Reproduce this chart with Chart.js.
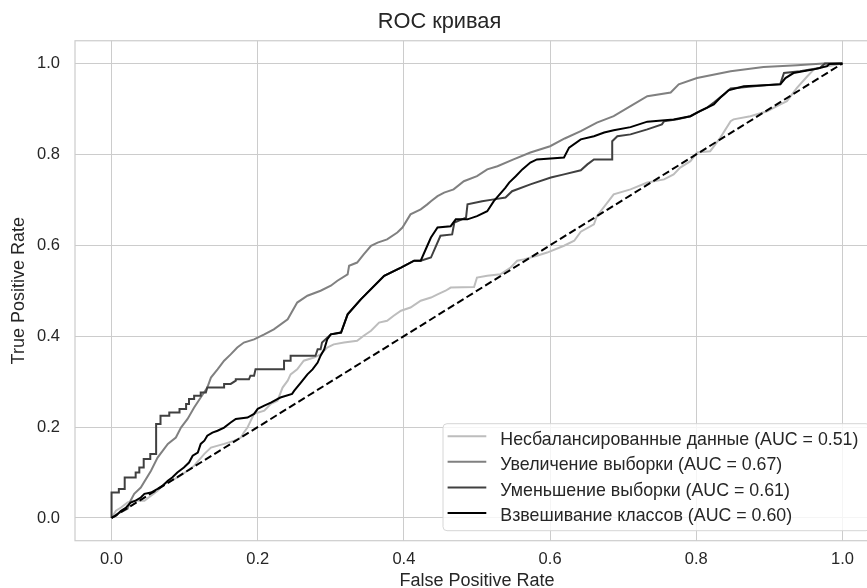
<!DOCTYPE html>
<html>
<head>
<meta charset="utf-8">
<script src="https://cdn.jsdelivr.net/npm/chart.js@4"></script>
<style>
  html, body { margin: 0; padding: 0; background: #fff; overflow: hidden; }
  #wrap { width: 867px; height: 588px; overflow: hidden; }
</style>
</head>
<body>
<div id="wrap"><canvas id="roc" width="888" height="592"></canvas></div>
<script>
const axisTicks = [0.0, 0.2, 0.4, 0.6, 0.8, 1.0];

const seriesNames = [
  "Несбалансированные данные (AUC = 0.51)",
  "Увеличение выборки (AUC = 0.67)",
  "Уменьшение выборки (AUC = 0.61)",
  "Взвешивание классов (AUC = 0.60)"
];
const seriesColors = ["#bdbdbd", "#808080", "#404040", "#000000"];

// несбалансированные
const fprUnbal = [0, 0.006, 0.013, 0.022, 0.031, 0.045, 0.054, 0.063, 0.072, 0.081, 0.090, 0.104, 0.113, 0.127, 0.136, 0.154, 0.168, 0.177, 0.181, 0.186, 0.195, 0.209, 0.218, 0.227, 0.234, 0.241, 0.245, 0.254, 0.263, 0.277, 0.286, 0.295, 0.304, 0.318, 0.336, 0.345, 0.355, 0.366, 0.377, 0.386, 0.396, 0.409, 0.423, 0.437, 0.446, 0.457, 0.464, 0.496, 0.500, 0.514, 0.532, 0.546, 0.555, 0.564, 0.582, 0.596, 0.619, 0.633, 0.642, 0.660, 0.664, 0.687, 0.710, 0.733, 0.756, 0.769, 0.778, 0.792, 0.801, 0.819, 0.833, 0.847, 0.851, 0.874, 0.897, 0.915, 0.924, 0.938, 0.952, 0.961, 0.979, 1.0];
const tprUnbal = [0, 0.016, 0.023, 0.034, 0.038, 0.038, 0.049, 0.060, 0.075, 0.082, 0.089, 0.104, 0.115, 0.141, 0.155, 0.163, 0.170, 0.177, 0.188, 0.199, 0.229, 0.236, 0.251, 0.258, 0.287, 0.302, 0.316, 0.327, 0.346, 0.353, 0.360, 0.375, 0.382, 0.386, 0.390, 0.401, 0.412, 0.430, 0.434, 0.445, 0.456, 0.463, 0.478, 0.485, 0.492, 0.500, 0.507, 0.508, 0.529, 0.533, 0.536, 0.551, 0.566, 0.569, 0.577, 0.584, 0.599, 0.610, 0.630, 0.646, 0.664, 0.712, 0.723, 0.738, 0.745, 0.756, 0.771, 0.785, 0.804, 0.807, 0.837, 0.873, 0.877, 0.884, 0.895, 0.910, 0.917, 0.947, 0.972, 0.987, 0.994, 1.0];

// увеличение выборки
const fprOver = [0, 0.008, 0.022, 0.026, 0.031, 0.040, 0.054, 0.063, 0.077, 0.088, 0.095, 0.104, 0.113, 0.122, 0.131, 0.136, 0.145, 0.154, 0.163, 0.172, 0.181, 0.195, 0.209, 0.222, 0.241, 0.254, 0.268, 0.286, 0.300, 0.309, 0.323, 0.325, 0.336, 0.345, 0.355, 0.364, 0.377, 0.391, 0.398, 0.409, 0.423, 0.432, 0.437, 0.446, 0.455, 0.468, 0.482, 0.500, 0.514, 0.528, 0.550, 0.573, 0.600, 0.620, 0.642, 0.664, 0.687, 0.710, 0.733, 0.765, 0.776, 0.801, 0.847, 0.892, 0.938, 0.974, 1.0];
const tprOver = [0, 0.009, 0.020, 0.038, 0.053, 0.067, 0.104, 0.133, 0.163, 0.177, 0.199, 0.218, 0.243, 0.265, 0.287, 0.309, 0.327, 0.346, 0.360, 0.375, 0.386, 0.393, 0.404, 0.415, 0.437, 0.474, 0.489, 0.500, 0.511, 0.522, 0.536, 0.555, 0.562, 0.580, 0.599, 0.606, 0.613, 0.628, 0.639, 0.668, 0.679, 0.690, 0.697, 0.708, 0.716, 0.723, 0.741, 0.752, 0.767, 0.774, 0.789, 0.804, 0.818, 0.835, 0.851, 0.870, 0.884, 0.906, 0.928, 0.936, 0.954, 0.968, 0.983, 0.992, 0.996, 1.0, 1.0];

// уменьшение выборки
const fprUnder = [0, 0, 0.010, 0.010, 0.018, 0.018, 0.033, 0.033, 0.038, 0.038, 0.044, 0.044, 0.053, 0.053, 0.061, 0.061, 0.067, 0.067, 0.079, 0.079, 0.093, 0.093, 0.102, 0.102, 0.106, 0.106, 0.113, 0.113, 0.122, 0.122, 0.129, 0.131, 0.154, 0.154, 0.163, 0.170, 0.170, 0.188, 0.190, 0.195, 0.197, 0.236, 0.236, 0.245, 0.245, 0.279, 0.282, 0.286, 0.288, 0.300, 0.314, 0.323, 0.341, 0.373, 0.396, 0.414, 0.423, 0.437, 0.450, 0.466, 0.469, 0.485, 0.487, 0.507, 0.523, 0.539, 0.548, 0.573, 0.601, 0.619, 0.642, 0.651, 0.660, 0.685, 0.685, 0.692, 0.710, 0.733, 0.753, 0.756, 0.774, 0.792, 0.801, 0.815, 0.824, 0.838, 0.847, 0.879, 0.915, 0.920, 0.942, 0.956, 0.969, 0.976, 1.0];
const tprUnder = [0, 0.056, 0.056, 0.064, 0.064, 0.089, 0.089, 0.100, 0.100, 0.111, 0.111, 0.130, 0.130, 0.141, 0.141, 0.207, 0.207, 0.225, 0.225, 0.232, 0.232, 0.240, 0.240, 0.251, 0.251, 0.262, 0.262, 0.269, 0.269, 0.276, 0.276, 0.287, 0.287, 0.295, 0.295, 0.302, 0.305, 0.305, 0.313, 0.313, 0.327, 0.327, 0.346, 0.346, 0.357, 0.357, 0.371, 0.371, 0.386, 0.404, 0.408, 0.448, 0.481, 0.533, 0.551, 0.566, 0.566, 0.573, 0.621, 0.624, 0.650, 0.661, 0.690, 0.697, 0.701, 0.705, 0.719, 0.734, 0.749, 0.756, 0.765, 0.778, 0.789, 0.789, 0.829, 0.840, 0.844, 0.855, 0.866, 0.873, 0.877, 0.884, 0.892, 0.903, 0.914, 0.932, 0.945, 0.950, 0.955, 0.979, 0.983, 0.987, 0.990, 1.0, 1.0];

// взвешивание классов
const fprWeight = [0, 0.006, 0.013, 0.020, 0.026, 0.033, 0.040, 0.045, 0.054, 0.063, 0.070, 0.077, 0.083, 0.090, 0.099, 0.106, 0.111, 0.118, 0.122, 0.127, 0.131, 0.138, 0.145, 0.154, 0.163, 0.170, 0.186, 0.195, 0.200, 0.209, 0.218, 0.231, 0.247, 0.250, 0.259, 0.268, 0.275, 0.282, 0.286, 0.291, 0.295, 0.300, 0.314, 0.323, 0.341, 0.373, 0.396, 0.414, 0.423, 0.432, 0.437, 0.446, 0.464, 0.471, 0.487, 0.500, 0.514, 0.523, 0.539, 0.544, 0.553, 0.562, 0.573, 0.582, 0.619, 0.626, 0.642, 0.660, 0.674, 0.687, 0.710, 0.733, 0.769, 0.792, 0.805, 0.824, 0.833, 0.844, 0.865, 0.915, 0.922, 0.933, 0.961, 0.979, 0.982, 1.0];
const tprWeight = [0, 0.005, 0.016, 0.023, 0.034, 0.038, 0.045, 0.053, 0.056, 0.064, 0.071, 0.082, 0.089, 0.100, 0.111, 0.122, 0.137, 0.144, 0.163, 0.170, 0.181, 0.188, 0.192, 0.199, 0.210, 0.218, 0.221, 0.229, 0.240, 0.247, 0.254, 0.265, 0.273, 0.280, 0.298, 0.316, 0.327, 0.342, 0.357, 0.371, 0.393, 0.404, 0.408, 0.448, 0.481, 0.533, 0.551, 0.566, 0.566, 0.599, 0.617, 0.639, 0.642, 0.657, 0.657, 0.664, 0.675, 0.697, 0.727, 0.738, 0.752, 0.767, 0.782, 0.789, 0.793, 0.815, 0.833, 0.840, 0.848, 0.853, 0.860, 0.872, 0.877, 0.884, 0.895, 0.910, 0.925, 0.941, 0.950, 0.954, 0.968, 0.979, 0.987, 0.994, 0.999, 1.0];

// случайный классификатор
const diagX = [0, 1];
const diagY = [0, 1];

const FONT = '"Liberation Sans", Arial, sans-serif';
const TEXT = '#262626';

const pts = (xs, ys) => xs.map((x, i) => ({x: x, y: ys[i]}));

const curves = [
  [fprUnbal, tprUnbal],
  [fprOver, tprOver],
  [fprUnder, tprUnder],
  [fprWeight, tprWeight]
];

const datasets = curves.map((c, i) => ({
  label: seriesNames[i],
  data: pts(c[0], c[1]),
  borderColor: seriesColors[i],
  borderWidth: 2,
  pointRadius: 0,
  order: 4 - i
}));
datasets.push({
  label: 'diag',
  data: pts(diagX, diagY),
  borderColor: '#000000',
  borderWidth: 2,
  borderDash: [7.5, 3.5],
  pointRadius: 0,
  order: 0
});

const frame = {
  id: 'frame',
  beforeDatasetsDraw(chart) {
    const {ctx, chartArea: a} = chart;
    ctx.save();
    ctx.strokeStyle = '#cccccc';
    ctx.lineWidth = 1.2;
    ctx.strokeRect(a.left, a.top, a.right - a.left, a.bottom - a.top);
    ctx.restore();
  }
};

const legendBox = {
  id: 'legendBox',
  afterDatasetsDraw(chart) {
    const {ctx, chartArea} = chart;
    ctx.save();
    ctx.font = '17.8px ' + FONT;
    const rowH = 25.6;
    const left = chartArea.right - 436;
    const right = chartArea.right - 9;
    const bottom = chartArea.bottom - 10;
    const top = bottom - 107;
    ctx.beginPath();
    ctx.roundRect(left, top, right - left, bottom - top, 4);
    ctx.fillStyle = 'rgba(255,255,255,0.8)';
    ctx.fill();
    ctx.strokeStyle = '#d6d6d6';
    ctx.lineWidth = 1;
    ctx.stroke();
    seriesNames.forEach((name, i) => {
      const y = top + 12.5 + i * rowH;
      ctx.beginPath();
      ctx.moveTo(left + 4.6, y);
      ctx.lineTo(left + 43.3, y);
      ctx.strokeStyle = seriesColors[i];
      ctx.lineWidth = 2;
      ctx.stroke();
      ctx.fillStyle = TEXT;
      ctx.textBaseline = 'middle';
      ctx.fillText(name, left + 57.3, y + 3.5);
    });
    ctx.restore();
  }
};

const setTicks = scale => { scale.ticks = axisTicks.map(v => ({value: v})); };

new Chart(document.getElementById('roc'), {
  type: 'scatter',
  data: { datasets: datasets },
  plugins: [frame, legendBox],
  options: {
    responsive: false,
    devicePixelRatio: 1,
    animation: false,
    showLine: true,
    layout: { padding: { left: 0, right: 9, top: 0, bottom: 0 } },
    elements: { line: { tension: 0, fill: false } },
    plugins: {
      legend: { display: false },
      tooltip: { enabled: false },
      title: {
        display: true,
        text: 'ROC кривая',
        color: TEXT,
        font: { family: FONT, size: 21.8, weight: 'normal' },
        padding: { top: 9, bottom: 5.6 }
      }
    },
    scales: {
      x: {
        type: 'linear',
        min: -0.05,
        max: 1.05,
        afterBuildTicks: setTicks,
        afterFit: s => { s.height = 51.3; },
        grid: { color: '#cccccc', lineWidth: 1, drawTicks: false },
        border: { display: false },
        ticks: {
          color: TEXT,
          padding: 9,
          font: { family: FONT, size: 16.5 },
          callback: v => v.toFixed(1)
        },
        title: {
          display: true,
          text: 'False Positive Rate',
          color: TEXT,
          font: { family: FONT, size: 18 },
          padding: { top: 0, bottom: 0 }
        }
      },
      y: {
        type: 'linear',
        min: -0.05,
        max: 1.05,
        afterBuildTicks: setTicks,
        afterFit: s => { s.width = 75; },
        grid: { color: '#cccccc', lineWidth: 1, drawTicks: false },
        border: { display: false },
        ticks: {
          color: TEXT,
          padding: 15,
          font: { family: FONT, size: 16.5 },
          callback: v => v.toFixed(1)
        },
        title: {
          display: true,
          text: 'True Positive Rate',
          color: TEXT,
          font: { family: FONT, size: 18 },
          padding: { top: 8, bottom: 0 }
        }
      }
    }
  }
});
</script>
</body>
</html>
